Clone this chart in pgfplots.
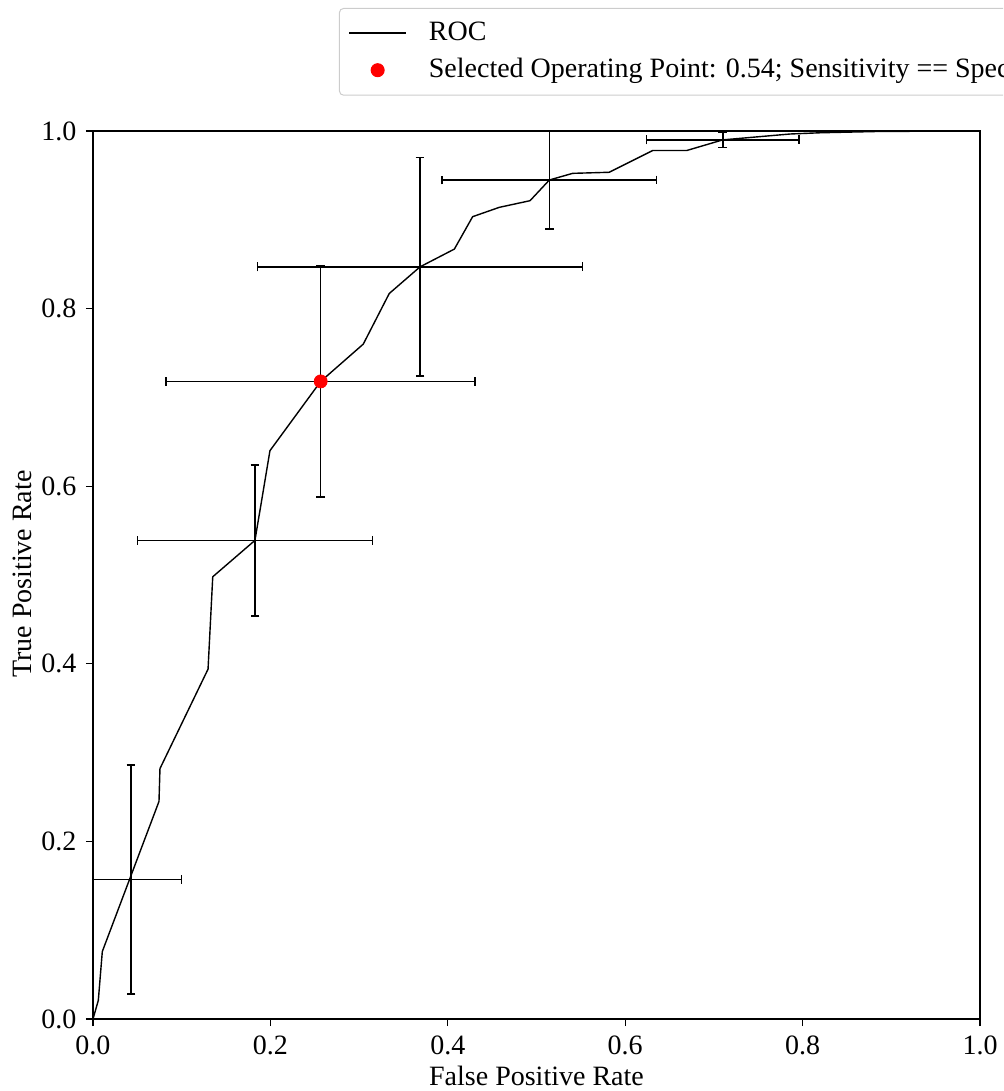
\documentclass[border=0pt]{standalone}
\usepackage{fontspec}
\setmainfont{Liberation Serif}
\usepackage{pgfplots}
\pgfplotsset{compat=1.18}
\begin{document}
\fontsize{14}{16.8}\selectfont
\begin{tikzpicture}
\useasboundingbox (-46.5pt,-36pt) rectangle (455pt,509.5pt);
\clip (-46.5pt,-36pt) rectangle (455pt,509.5pt);
\begin{axis}[
  at={(0pt,0pt)}, anchor=south west,
  scale only axis, width=443.5pt, height=444pt,
  xmin=0, xmax=1, ymin=0, ymax=1,
  xtick={0,0.2,0.4,0.6,0.8,1.0},
  ytick={0,0.2,0.4,0.6,0.8,1.0},
  xtick pos=bottom, ytick pos=left,
  tick align=outside, major tick length=3.5pt,
  major tick style={line width=0.6pt, black},
  axis line style={line width=0.6pt},
  /pgf/number format/assume math mode=true,
  xticklabel style={/pgf/number format/.cd, fixed, fixed zerofill, precision=1},
  yticklabel style={/pgf/number format/.cd, fixed, fixed zerofill, precision=1},
  tick label style={font=\fontsize{14}{16.8}\selectfont},
  label style={font=\fontsize{14}{16.8}\selectfont},
  xlabel={False Positive Rate},
  ylabel={True Positive Rate},
  xlabel style={at={(axis description cs:0.5,-0.064)}, anchor=center},
  ylabel style={at={(axis description cs:-0.080,0.501)}, anchor=center},
  legend style={at={(axis description cs:0.2773,1.1385)}, anchor=north west,
    draw=black!20, line width=0.5pt, rounded corners=2pt, fill=white,
    font=\fontsize{14}{16.8}\selectfont, row sep=3pt, inner xsep=4.5pt, inner ysep=4.5pt,
    /tikz/every odd column/.append style={column sep=9pt}},
  legend cell align=left,
]
\addplot[black, line width=0.7pt, mark=none,
  legend image code/.code={\draw[black, line width=0.7pt] (0pt,0pt) -- (28.5pt,0pt);}]
coordinates {
(0,0) (0.006,0.021) (0.0105,0.076) (0.0744,0.245) (0.0755,0.282)
(0.1297,0.394) (0.135,0.498) (0.1826,0.539) (0.1995,0.640) (0.2567,0.718)
(0.3047,0.760) (0.334,0.817) (0.3687,0.847) (0.4074,0.867) (0.428,0.9035)
(0.458,0.914) (0.4927,0.9215) (0.5145,0.9448) (0.5408,0.9523) (0.582,0.9535)
(0.631,0.978) (0.6693,0.978) (0.71,0.990) (0.7858,0.9966) (0.82,0.998)
(0.887,0.9995) (1,1)
};
\addlegendentry{ROC}
\addplot[draw=none, mark=none, forget plot,
  error bars/.cd, x dir=both, x explicit, y dir=both, y explicit,
  error bar style={draw=black, line width=0.75pt},
  error mark=|,
  error mark options={draw=black, line width=0.75pt, mark size=2.2pt}]
coordinates {
(0.0428,0.157) +- (0.0572,0.129)
(0.1826,0.539) +- (0.1325,0.085)
(0.2567,0.718) +- (0.1742,0.130)
(0.3687,0.847) +- (0.1834,0.123)
(0.5145,0.9448) +- (0.1208,0.0552)
(0.71,0.990) +- (0.086,0.0085)
};
\addplot[only marks, mark=*, mark size=3.25pt, color=red,
  legend image code/.code={\fill[red] (14.25pt,0pt) circle (3.25pt);}]
coordinates {(0.2567,0.718)};
\addlegendentry{Selected Operating Point: 0.54; Sensitivity == Specificity}
\end{axis}
\end{tikzpicture}
\end{document}
